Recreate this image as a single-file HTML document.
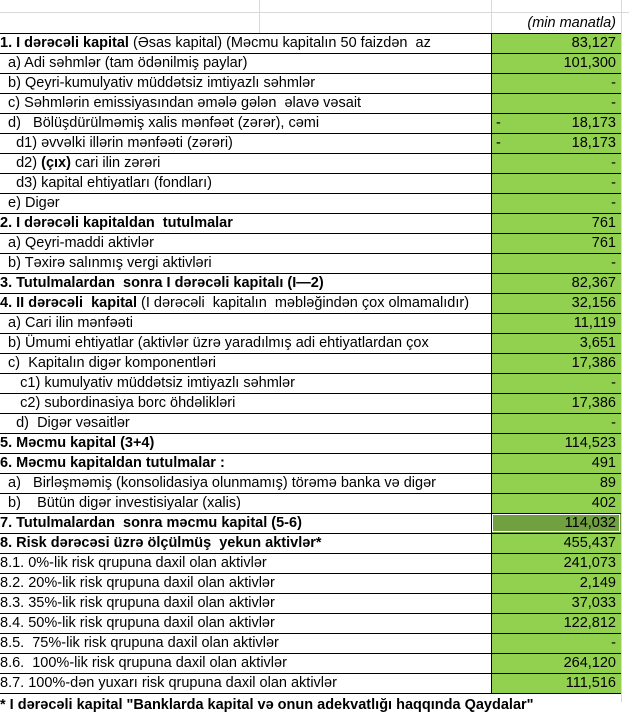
<!DOCTYPE html>
<html><head><meta charset="utf-8"><style>
body{margin:0;width:629px;height:702px;overflow:hidden;background:#fff;font-family:"Liberation Sans",sans-serif;font-size:14.5px;color:#000;position:relative}
.r{position:absolute;left:0;width:621px;height:20px;border-top:1px solid #000;box-sizing:border-box}
.l{position:absolute;left:0;top:0;line-height:19px;white-space:pre}
.v{position:absolute;left:491px;width:130px;top:-1px;height:20px;background:#92D050;border-left:1px solid #000;border-top:1px solid #000;box-sizing:border-box;text-align:right;padding-right:5px;line-height:19px}
.dk{background:#70A040;outline:1px solid #fff;outline-offset:-2px}
b{font-weight:bold}
.m{position:absolute;left:4px}
.g{position:absolute;background:#d9d9d9}
</style></head><body>
<div class="g" style="left:0;top:12px;width:629px;height:1px"></div>
<div class="g" style="left:259px;top:0;width:1px;height:33px"></div>
<div class="g" style="left:491px;top:0;width:1px;height:33px"></div>
<div class="g" style="left:621px;top:0;width:1px;height:702px"></div>
<div style="position:absolute;left:491px;width:125px;top:14px;text-align:right;font-style:italic;line-height:18px">(min manatla)</div>
<div id="t"></div>
<script>
var rows=[
["<b>1. I dərəcəli kapital</b> (Əsas kapital) (Məcmu kapitalın 50 faizdən  az","83,127"],
["  a) Adi səhmlər (tam ödənilmiş paylar)","101,300"],
["  b) Qeyri-kumulyativ müddətsiz imtiyazlı səhmlər","-"],
["  c) Səhmlərin emissiyasından əmələ gələn  əlavə vəsait","-"],
["  d)   Bölüşdürülməmiş xalis mənfəət (zərər), cəmi","18,173",1],
["    d1) əvvəlki illərin mənfəəti (zərəri)","18,173",1],
["    d2) <b>(çıx)</b> cari ilin zərəri","-"],
["    d3) kapital ehtiyatları (fondları)","-"],
["  e) Digər","-"],
["<b>2. I dərəcəli kapitaldan  tutulmalar</b>","761"],
["  a) Qeyri-maddi aktivlər","761"],
["  b) Təxirə salınmış vergi aktivləri","-"],
["<b>3. Tutulmalardan  sonra I dərəcəli kapitalı (I—2)</b>","82,367"],
["<b>4. II dərəcəli  kapital</b> (I dərəcəli  kapitalın  məbləğindən çox olmamalıdır)","32,156"],
["  a) Cari ilin mənfəəti","11,119"],
["  b) Ümumi ehtiyatlar (aktivlər üzrə yaradılmış adi ehtiyatlardan çox","3,651"],
["  c)  Kapitalın digər komponentləri","17,386"],
["     c1) kumulyativ müddətsiz imtiyazlı səhmlər","-"],
["     c2) subordinasiya borc öhdəlikləri","17,386"],
["    d)  Digər vəsaitlər","-"],
["<b>5. Məcmu kapital (3+4)</b>","114,523"],
["<b>6. Məcmu kapitaldan tutulmalar :</b>","491"],
["  a)   Birləşməmiş (konsolidasiya olunmamış) törəmə banka və digər","89"],
["  b)    Bütün digər investisiyalar (xalis)","402"],
["<b>7. Tutulmalardan  sonra məcmu kapital (5-6)</b>","114,032",0,1],
["<b>8. Risk dərəcəsi üzrə ölçülmüş  yekun aktivlər*</b>","455,437"],
["8.1. 0%-lik risk qrupuna daxil olan aktivlər","241,073"],
["8.2. 20%-lik risk qrupuna daxil olan aktivlər","2,149"],
["8.3. 35%-lik risk qrupuna daxil olan aktivlər","37,033"],
["8.4. 50%-lik risk qrupuna daxil olan aktivlər","122,812"],
["8.5.  75%-lik risk qrupuna daxil olan aktivlər","-"],
["8.6.  100%-lik risk qrupuna daxil olan aktivlər","264,120"],
["8.7. 100%-dən yuxarı risk qrupuna daxil olan aktivlər","111,516"]];
var h="";
rows.forEach(function(r,i){
h+='<div class="r" style="top:'+(33+i*20)+'px"><div class="l">'+r[0]+'</div><div class="v'+(r[3]?' dk':'')+'">'+(r[2]?'<span class="m">-</span>':'')+r[1]+'</div></div>';
});
h+='<div class="r" style="top:693px;height:12px"><div class="l" style="top:2px"><b>* I dərəcəli kapital "Banklarda kapital və onun adekvatlığı haqqında Qaydalar"</b></div></div>';
document.getElementById("t").innerHTML=h;
</script>
</body></html>
